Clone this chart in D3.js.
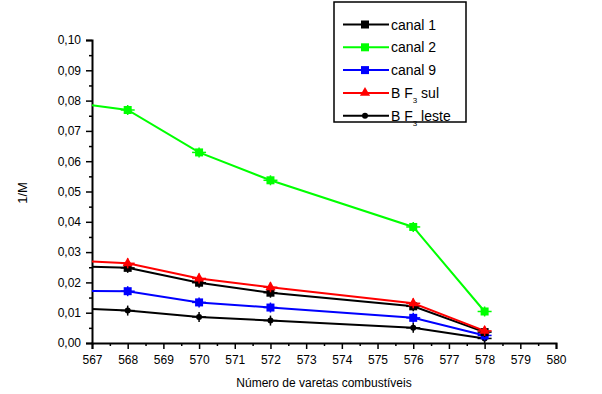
<!DOCTYPE html>
<html><head><meta charset="utf-8">
<script src="https://cdn.jsdelivr.net/npm/d3@7/dist/d3.min.js"></script>
<style>body{margin:0;background:#fff}svg{display:block}text{font-family:"Liberation Sans",Arial,sans-serif}</style>
</head><body><svg id="c" width="602" height="394"></svg>
<script>
const xValues = [567, 568, 570, 572, 576, 578];
const canal1 = [0.0252, 0.0248, 0.0199, 0.0166, 0.0121, 0.0036];
const canal2 = [0.0785, 0.0769, 0.0629, 0.0537, 0.0383, 0.0104];
const canal9 = [0.0172, 0.0171, 0.0134, 0.0117, 0.0083, 0.0025];
const bf3Sul = [0.0269, 0.0263, 0.0213, 0.0184, 0.0131, 0.0040];
const bf3Leste = [0.0112, 0.0107, 0.0086, 0.0074, 0.0050, 0.0015];
const xTicks = [567,568,569,570,571,572,573,574,575,576,577,578,579,580];
const yTicks = [0,0.01,0.02,0.03,0.04,0.05,0.06,0.07,0.08,0.09,0.10];

const series = [
  {name:"canal 1", values:canal1, color:"#000000", marker:"square"},
  {name:"canal 2", values:canal2, color:"#00ff00", marker:"square"},
  {name:"canal 9", values:canal9, color:"#0000ff", marker:"square"},
  {name:"BF3 sul", values:bf3Sul, color:"#ff0000", marker:"triangle"},
  {name:"BF3 leste", values:bf3Leste, color:"#000000", marker:"circle"}
];

const svg = d3.select("#c");
const x = d3.scaleLinear().domain([567,580]).range([92,556]);
const y = d3.scaleLinear().domain([0,0.10]).range([343,40]);
const fmt = d => d3.format(".2f")(d).replace(".", ",");

// axes
const xAxis = svg.append("g").attr("transform","translate(0,343)")
  .call(d3.axisBottom(x).tickValues(xTicks).tickFormat(d3.format("d")).tickSize(6).tickPadding(6));
const xMinor = svg.append("g").attr("transform","translate(0,343)")
  .call(d3.axisBottom(x).tickValues(d3.range(567.5,580,1)).tickFormat("").tickSize(3));
const yAxis = svg.append("g").attr("transform","translate(92,0)")
  .call(d3.axisLeft(y).tickValues(yTicks).tickFormat(fmt).tickSize(6).tickPadding(5));
const yMinor = svg.append("g").attr("transform","translate(92,0)")
  .call(d3.axisLeft(y).tickValues(d3.range(0.005,0.1,0.01)).tickFormat("").tickSize(3));
[xAxis,xMinor,yAxis,yMinor].forEach(g=>{
  g.selectAll("path").attr("stroke","#000").attr("stroke-width",2);
  g.selectAll("line").attr("stroke","#000").attr("stroke-width",1.5);
  g.selectAll("text").attr("font-size",12).attr("fill","#000");
});
xMinor.select("path").remove(); yMinor.select("path").remove();

// labels
svg.append("text").attr("x",324).attr("y",387).attr("text-anchor","middle").attr("font-size",12).text("Número de varetas combustíveis");
svg.append("text").attr("transform","translate(27,193) rotate(-90)").attr("text-anchor","middle").attr("font-size",13).text("1/M");

function drawMarker(g, type, cx, cy, color){
  g.append("line").attr("x1",cx-7).attr("x2",cx+7).attr("y1",cy).attr("y2",cy).attr("stroke",color).attr("stroke-width",1.5);
  g.append("line").attr("x1",cx).attr("x2",cx).attr("y1",cy-5).attr("y2",cy+5).attr("stroke",color).attr("stroke-width",1.5);
  if(type==="square") g.append("rect").attr("x",cx-4).attr("y",cy-4).attr("width",8).attr("height",8).attr("fill",color);
  else if(type==="triangle") g.append("path").attr("d",d3.symbol(d3.symbolTriangle,45)()).attr("transform",`translate(${cx},${cy})`).attr("fill",color);
  else g.append("circle").attr("cx",cx).attr("cy",cy).attr("r",3).attr("fill",color);
}

const line = d3.line().x((d,i)=>x(xValues[i])).y(d=>y(d));
const order = [4,2,0,3,1];
order.forEach(k=>{
  const s = series[k];
  const g = svg.append("g");
  g.append("path").datum(s.values).attr("d",line).attr("fill","none").attr("stroke",s.color).attr("stroke-width",2);
  s.values.forEach((v,i)=>{ if(i>0) drawMarker(g, s.marker, x(xValues[i]), y(v), s.color); });
});

// legend
const lg = svg.append("g");
lg.append("rect").attr("x",334).attr("y",2).attr("width",132).attr("height",120).attr("fill","#fff").attr("stroke","#000").attr("stroke-width",1.5);
series.forEach((s,i)=>{
  const cy = 24.5 + i*22.8;
  lg.append("line").attr("x1",343).attr("x2",389).attr("y1",cy).attr("y2",cy).attr("stroke",s.color).attr("stroke-width",2);
  if(s.marker==="square") lg.append("rect").attr("x",361).attr("y",cy-4).attr("width",8).attr("height",8).attr("fill",s.color);
  else if(s.marker==="triangle") lg.append("path").attr("d",d3.symbol(d3.symbolTriangle,45)()).attr("transform",`translate(365,${cy})`).attr("fill",s.color);
  else lg.append("circle").attr("cx",365).attr("cy",cy).attr("r",3).attr("fill",s.color);
  const t = lg.append("text").attr("x",391).attr("y",cy+5).attr("font-size",14).attr("fill","#000");
  if(s.name.startsWith("BF3")){
    t.append("tspan").text("B F");
    t.append("tspan").attr("font-size",8).attr("dy",5).text("3");
    t.append("tspan").attr("dy",-5).text(" " + s.name.slice(4));
  } else t.text(s.name);
});
</script></body></html>
